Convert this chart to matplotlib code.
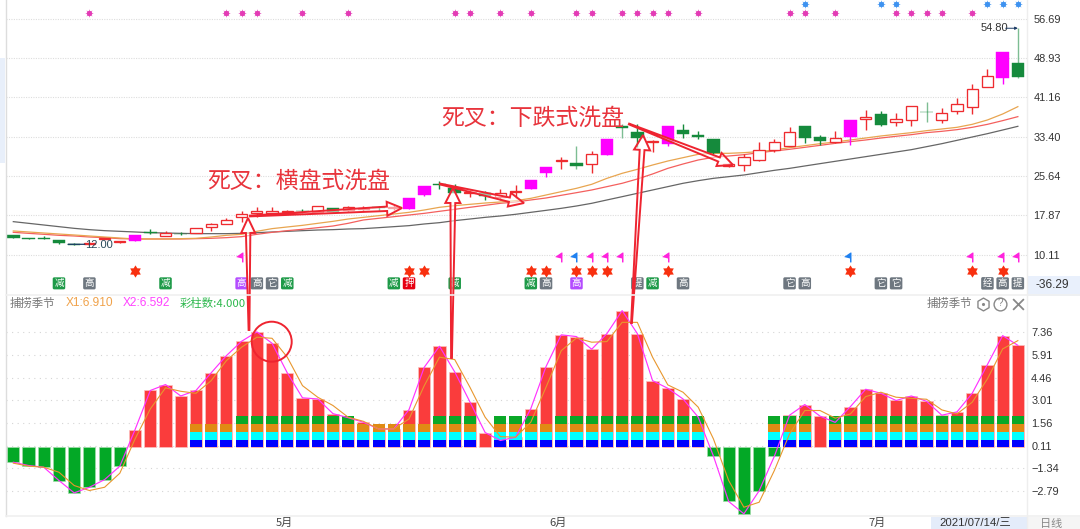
import numpy as np
import matplotlib
matplotlib.use("Agg")
import matplotlib.pyplot as plt
from matplotlib.patches import Polygon, Rectangle, Circle
from matplotlib.path import Path

CJK = ['Noto Sans CJK SC', 'DejaVu Sans']
plt.rcParams['font.family'] = ['Liberation Sans', 'Noto Sans CJK SC', 'DejaVu Sans']

# ---------- price panel data ----------
body_top = [13.92,13.39,13.39,13.0,12.21,12.34,13.46,12.87,13.99,14.64,14.31,14.25,15.43,16.16,16.95,18.07,18.79,18.66,18.66,18.79,19.78,19.25,19.45,
            19.25,19.45,19.51,21.29,23.59,24.05,23.33,22.47,22.21,22.21,22.74,24.91,27.34,28.73,28.20,29.98,32.87,35.44,34.32,32.48,35.50,34.78,33.73,32.87,
            28.07,29.45,30.70,32.28,34.32,35.50,33.27,33.20,36.69,37.21,37.94,36.82,39.45,38.33,38.13,39.78,42.87,45.44,50.11,48.0]
body_bot = [13.46,13.26,13.26,12.47,12.08,12.14,13.26,12.67,12.87,14.44,13.85,14.12,14.31,15.50,16.09,17.47,18.26,18.26,18.46,18.66,18.59,18.59,18.92,
            19.05,19.25,19.25,19.12,21.95,23.86,22.34,22.21,21.69,21.55,22.47,23.13,26.16,28.59,27.67,27.94,29.71,35.17,33.13,32.34,32.01,33.92,33.40,30.24,
            27.67,27.87,28.79,30.83,31.62,33.20,32.61,32.41,33.40,36.82,35.77,36.23,36.62,38.27,36.62,38.53,39.25,43.20,44.91,45.24]
high_px = [13.92,13.39,13.79,13.0,12.47,12.61,13.46,12.87,13.99,15.24,14.71,14.58,15.43,16.42,17.28,18.72,19.45,19.45,18.92,19.12,19.78,19.25,19.71,
           19.78,19.78,19.91,21.29,23.59,24.71,23.99,23.0,22.60,23.13,23.79,24.91,27.34,29.32,31.55,30.50,32.87,35.90,35.83,32.74,35.50,35.90,34.58,32.87,
           28.20,29.98,32.34,32.87,35.37,35.50,33.66,34.45,36.69,38.59,38.40,38.13,39.45,40.24,39.12,41.03,43.86,46.69,50.11,54.80]
low_px = [13.46,13.13,13.13,12.21,12.0,12.05,13.26,12.47,12.87,14.18,13.85,13.92,14.31,14.84,16.09,16.62,17.60,17.93,18.26,18.39,18.59,18.59,18.59,
          18.66,18.79,19.0,19.12,21.69,23.13,22.34,21.55,20.90,20.90,21.22,23.13,25.37,26.95,27.08,26.29,29.71,33.20,31.42,30.44,31.62,33.20,33.0,29.98,
          27.47,26.69,28.53,30.44,31.62,32.21,31.68,32.08,31.68,34.71,35.57,35.57,35.57,36.23,36.16,37.87,37.87,43.20,43.73,45.04]
candle_kind = list("DDDDDUUUMDUDUUUUUUUDUDU" "UDUMMDDUDUUMMUDUMDDUMDDD" "UUUUUDDUMUDUUDUUUUMD")

ma_gray = [16.62,16.29,15.96,15.63,15.30,15.04,14.84,14.71,14.58,14.44,14.38,14.31,14.25,14.25,14.25,14.31,14.44,14.58,14.71,14.84,14.97,15.04,15.17,
           15.24,15.43,15.63,15.83,16.16,16.42,16.82,17.14,17.47,17.74,18.07,18.46,18.85,19.25,19.71,20.24,20.90,21.55,22.21,22.87,23.53,24.19,24.71,25.17,
           25.50,25.83,26.29,26.75,27.14,27.61,28.07,28.53,28.99,29.45,29.91,30.37,30.83,31.42,32.01,32.67,33.33,33.99,34.71,35.44]
ma_red = [14.51,14.31,14.12,13.92,13.79,13.59,13.46,13.26,13.20,13.20,13.20,13.20,13.26,13.33,13.46,13.66,14.12,14.51,14.84,15.11,15.43,15.76,16.29,
          16.95,17.28,17.60,17.93,18.26,18.66,19.05,19.45,19.84,20.24,20.50,20.90,21.29,21.82,22.34,22.87,23.53,24.19,25.04,26.03,27.14,28.0,28.79,29.32,
          29.58,29.84,30.24,30.57,30.90,31.29,31.68,32.08,32.41,32.74,33.13,33.47,33.79,34.19,34.45,34.78,35.24,35.83,36.56,37.35]
ma_orange = [14.78,14.58,14.38,14.18,13.99,13.79,13.59,13.39,13.20,13.20,13.20,13.26,13.33,13.59,13.92,14.12,14.71,15.24,15.57,15.89,16.29,16.68,17.14,
             17.47,17.80,18.13,18.46,18.92,19.45,19.78,20.04,20.30,20.50,20.76,21.22,21.88,22.54,23.20,23.99,25.17,26.16,26.95,27.80,28.59,29.25,29.91,30.11,
             30.11,30.24,30.44,30.77,31.23,31.62,32.01,32.34,32.74,33.13,33.53,33.86,34.19,34.58,34.91,35.24,35.83,36.69,37.87,39.32]

pink_marks = [5,14,15,16,19,22,29,30,32,34,37,38,40,41,42,43,45,51,52,54,58,59,60,61,63]
blue_marks = [52,57,58,64,65,66]
star_marks = [8,26,27,34,35,37,38,39,43,55,63,65]
flag_pink = [15,36,38,39,40,43,63,65,66]
flag_blue = [37,55]
badge_idx = [3,5,10,15,16,17,18,25,26,29,34,35,37,41,42,44,51,52,57,58,64,65,66]
badge_txt = ["减","高","减","高","高","它","减","减","押","减","减","高","高","提","减","高","它","高","它","它","经","高","提"]
badge_col = ["g","k","g","p","k","k","g","g","r","g","g","k","p","k","g","k","k","k","k","k","k","k","k"]
light_wicks = [37,40,60,66]

price_ticks = [56.69,48.93,41.16,33.40,25.64,17.87,10.11]

# ---------- oscillator panel data ----------
x2_bars = [-0.95,-1.16,-1.27,-2.12,-2.91,-2.55,-2.06,-1.20,1.14,3.64,4.02,3.29,3.64,4.77,5.87,6.79,7.39,6.66,4.77,3.17,3.10,2.16,1.9,
           1.61,1.18,1.18,2.42,5.13,6.47,4.83,2.91,0.95,0.44,0.65,2.48,5.17,7.2,7.09,6.28,7.28,8.75,7.28,4.27,3.78,3.10,1.93,-0.56,
           -3.46,-4.25,-2.78,-0.57,2.06,2.74,2.0,1.6,2.61,3.72,3.46,3.0,3.29,2.95,2.06,2.27,3.46,5.3,7.15,6.53]
x1_line = [-1.01,-1.20,-1.27,-1.59,-2.44,-2.76,-2.55,-1.65,0.54,2.46,3.81,3.59,3.46,4.27,5.55,6.41,7.05,6.98,5.77,3.95,3.21,2.68,1.93,
           1.67,1.18,1.18,1.82,3.95,5.77,5.62,3.85,1.93,0.69,0.65,1.61,3.85,6.19,7.00,6.73,6.77,8.0,8.0,5.77,4.0,3.53,2.57,0.54,
           -2.12,-3.83,-3.51,-1.48,0.86,2.36,2.36,1.87,2.14,3.25,3.53,3.21,3.14,3.08,2.40,2.14,2.89,4.38,6.30,6.83]
color_layers = [0]*12 + [3,3,3] + [4]*8 + [3,3,3,3,3] + [4,4,4,0,4,4,4,3] + [4]*10 + [0,0,0,0,4,4,4,0] + [4]*13
layer_colors = ["#0000FF","#00FFFF","#E08B14","#0AA828"]
layer_step = 0.5
osc_ticks = [7.36,5.91,4.46,3.01,1.56,0.11,-1.34,-2.79]
month_pos = [17.83,35.81,56.76]
month_lab = ["5月","6月","7月"]

RED, GRN, MAG = "#EE2B2F", "#158A3C", "#FF00FF"
W, H = 1080, 529
fig = plt.figure(figsize=(W/100, H/100), dpi=100, facecolor="white")
def axpx(x0, y0, x1, y1, **k):
    return fig.add_axes([x0/W, 1-y1/H, (x1-x0)/W, (y1-y0)/H], **k)

# ---------- price ----------
ax = axpx(6, 0, 1027, 295)
ax.set_xlim(-0.48, 66.60)
ax.set_ylim(2.14, 60.375)
n = len(body_top)
xs = np.arange(n)
ax.set_yticks(price_ticks)
ax.yaxis.tick_right()
ax.tick_params(axis='y', length=0, pad=4.5, labelsize=7.9, labelcolor="#333333")
ax.set_xticks([])
for s in ax.spines.values():
    s.set_visible(False)
ax.grid(axis='y', color="#DDDDDD", lw=0.8, ls=(0, (1, 1.2)))
ax.set_axisbelow(True)
ax.plot(xs, ma_gray, color="#666666", lw=0.9, zorder=2)
ax.plot(xs, ma_red, color="#F4605E", lw=0.9, zorder=2)
ax.plot(xs, ma_orange, color="#E8A550", lw=0.9, zorder=2)
for i in range(n):
    k = candle_kind[i]
    c = {"U": RED, "D": GRN, "M": MAG}[k]
    wc = "#7DBD93" if i in light_wicks else c
    ax.vlines(i, low_px[i], high_px[i], color=wc, lw=1.0, zorder=3)
    h = body_top[i]-body_bot[i]
    if k == "U":
        ax.add_patch(Rectangle((i-0.37, body_bot[i]), 0.74, h, fc="white", ec=c, lw=0.95, zorder=4))
    else:
        ax.add_patch(Rectangle((i-0.41, body_bot[i]), 0.82, h, fc=c, ec=c, lw=0.3, zorder=4))

for pts, col, yv in ((pink_marks, "#E33BB5", 57.74), (blue_marks, "#3D92F0", 59.65)):
    ax.scatter(pts, [yv]*len(pts), marker=(8, 1, 0), s=38, color=col, lw=0, clip_on=False, zorder=5, alpha=0.75)
    ax.scatter(pts, [yv]*len(pts), marker="o", s=14, color=col, lw=0, clip_on=False, zorder=5)
hexagram = Path.unit_regular_star(6, innerCircle=0.6)
ax.scatter(star_marks, [6.95]*len(star_marks), marker=hexagram, s=78, color="#F8300F", lw=0, zorder=5)
flag = [(0, 1), (-1.3, 0.1), (-0.1, -0.2), (-0.1, -1), (0.2, -1), (0.2, 1)]
ax.scatter(flag_pink, [9.58]*len(flag_pink), marker=flag, s=85, color="#FF22DD", lw=0, zorder=5)
ax.scatter(flag_blue, [9.58]*len(flag_blue), marker=flag, s=85, color="#1E80F0", lw=0, zorder=5)
bc = {"g": "#1E9A48", "k": "#6E7780", "p": "#B44CFF", "r": "#E60012"}
for i, t, c in zip(badge_idx, badge_txt, badge_col):
    ax.text(i, 4.44, t, family=CJK, fontsize=6.8, color="white", ha="center", va="center", zorder=6,
            bbox=dict(boxstyle="round,pad=0.16", fc=bc[c], ec="none"))
ax.text(4.72, 12.0, "12.00", fontsize=8, color="#2A4A5A", va="center", ha="left", zorder=6)
ax.annotate("", xy=(3.6, 12.15), xytext=(4.7, 12.15), arrowprops=dict(arrowstyle="-", color="#1D3C66", lw=0.9, shrinkA=0, shrinkB=0), zorder=6)
ax.text(63.55, 54.75, "54.80", fontsize=8, color="#333333", va="center", ha="left", zorder=6)
ax.annotate("", xy=(66.0, 54.80), xytext=(65.2, 54.80), arrowprops=dict(arrowstyle="-|>", color="#1D3C66", lw=0.7, mutation_scale=4, shrinkA=0, shrinkB=0), zorder=6)

# ---------- oscillator ----------
ax2 = axpx(6, 295, 1027, 516)
ax2.set_xlim(-0.48, 66.60)
ax2.set_ylim(-4.39, 9.75)
vals = np.array(x2_bars)
ax2.bar(xs, vals, width=0.8, color=["#FA3C3C" if v > 0 else "#03A826" for v in vals], zorder=3, lw=0.5,
        edgecolor=["#FCC0C0" if v > 0 else "#A0DCA8" for v in vals])
for i, cnt in enumerate(color_layers):
    for j in range(cnt):
        ax2.bar(i, layer_step, bottom=j*layer_step, width=0.8, color=layer_colors[j], zorder=4, lw=0)
ax2.plot(xs, x2_bars, color="#FF33FF", lw=0.85, zorder=5)
ax2.plot(xs, x1_line, color="#E8972E", lw=0.8, zorder=6)
ax2.set_yticks(osc_ticks)
ax2.yaxis.tick_right()
ax2.tick_params(axis='y', length=0, pad=3, labelsize=7.9, labelcolor="#333333")
ax2.set_xticks(month_pos)
ax2.set_xticklabels(month_lab, family=CJK, fontsize=8, color="#444444")
ax2.tick_params(axis='x', length=0, pad=1)
for s in ax2.spines.values():
    s.set_visible(False)
ax2.grid(axis='y', color="#D5D5D5", lw=0.8, ls=(0, (1, 4)))
ax2.set_axisbelow(True)

# ---------- overlay: frame, header text, hand-drawn annotations ----------
ov = fig.add_axes([0, 0, 1, 1], facecolor="none", zorder=10)
ov.set_xlim(0, W)
ov.set_ylim(H, 0)
ov.axis("off")
ov.plot([5.5, 5.5], [0, 516], color="#DDDDDD", lw=1)
ov.plot([1027, 1027], [0, 529], color="#EEEEEE", lw=1)
ov.plot([6, 1080], [295, 295], color="#F0F0F0", lw=1.2)
ov.plot([6, 1080], [516, 516], color="#F0F0F0", lw=1.2)
ov.add_patch(Rectangle((0, 58), 5, 105, fc="#E8EFFA", ec="none"))
ov.add_patch(Rectangle((1027, 276), 53, 20, fc="#E9F0FC", ec="none"))
ov.text(1035, 285, "-36.29", fontsize=8.6, color="#333333", va="center")
ov.add_patch(Rectangle((931, 517), 96, 12, fc="#E4ECFA", ec="none"))
ov.add_patch(Rectangle((1027, 517), 53, 12, fc="#F5F5F5", ec="none"))
ov.text(939, 523.5, "2021/07/14/三", family=['Liberation Sans', 'Noto Sans CJK SC'], fontsize=8.2, color="#333333", va="center")
ov.text(1051, 523.5, "日线", family=CJK, fontsize=8, color="#888888", va="center", ha="center")

ov.text(10, 303, "捕捞季节", family=CJK, fontsize=8.2, color="#777777", va="center")
ov.text(66, 303, "X1:6.910", fontsize=8.6, color="#F0A24A", va="center")
ov.text(123, 303, "X2:6.592", fontsize=8.6, color="#FF44FF", va="center")
ov.text(180, 303, "彩柱数:4.000", family=['Noto Sans CJK SC'], fontsize=8.2, color="#2DB84D", va="center")
ov.text(927, 303, "捕捞季节", family=CJK, fontsize=8.2, color="#777777", va="center")
ov.scatter([983], [303.5], marker="h", s=85, fc="white", ec="#888888", lw=1)
ov.scatter([983], [303.5], marker="o", s=5, color="#888888", lw=0)
ov.scatter([1000], [303.5], marker="o", s=85, fc="white", ec="#888888", lw=1)
ov.text(1000, 303.5, "?", fontsize=7, color="#888888", ha="center", va="center")
ov.scatter([1018], [303.5], marker="x", s=60, color="#888888", lw=1.3)

RD = "#EE2430"
def arrow(tail, tip, base_half, head_half, head_len):
    t, p = np.array(tail, float), np.array(tip, float)
    d = (p-t)/np.linalg.norm(p-t)
    nrm = np.array([-d[1], d[0]])
    b = p-d*head_len
    pts = [t+nrm*0.4, b+nrm*base_half, b+nrm*head_half, p, b-nrm*head_half, b-nrm*base_half, t-nrm*0.4]
    ov.add_patch(Polygon(pts, closed=True, fc=(1, 1, 1, 0.55), ec=RD, lw=1.4, joinstyle="miter"))

arrow((249, 330), (248, 218), 2.2, 7, 15)
arrow((250, 216), (402, 208), 2.2, 7, 15)
arrow((451.5, 358), (453, 188), 2.4, 7.5, 15)
arrow((440, 184), (524, 203), 2.2, 7, 15)
arrow((631.5, 323), (643, 135), 2.4, 8, 15)
arrow((629, 124), (733, 165), 2.2, 7, 15)
ov.add_patch(Circle((271.7, 341.7), 20, fc="none", ec=RD, lw=1.4))
ov.text(207, 181, "死叉：横盘式洗盘", family=CJK, fontsize=16.5, color="#E8343C", va="center")
ov.text(441, 118, "死叉：下跌式洗盘", family=CJK, fontsize=16.5, color="#E8343C", va="center")

fig.savefig("out.png", dpi=100, facecolor="white")
